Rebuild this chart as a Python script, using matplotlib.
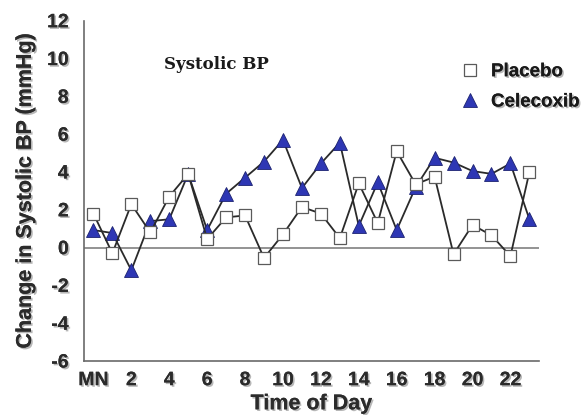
import matplotlib
matplotlib.use("Agg")
import matplotlib.pyplot as plt
import matplotlib.patheffects as pe

plt.rcParams["axes.unicode_minus"] = False

hours = list(range(24))
tick_hours = [0, 2, 4, 6, 8, 10, 12, 14, 16, 18, 20, 22]
tick_labels = ["MN", "2", "4", "6", "8", "10", "12", "14", "16", "18", "20", "22"]
y_ticks = [-6, -4, -2, 0, 2, 4, 6, 8, 10, 12]

placebo = [1.8, -0.3, 2.3, 0.8, 2.7, 3.9, 0.45, 1.6, 1.7, -0.55, 0.7, 2.15,
           1.8, 0.5, 3.4, 1.3, 5.1, 3.35, 3.75, -0.35, 1.2, 0.65, -0.45, 4.0]
celecoxib = [0.93, 0.77, -1.2, 1.4, 1.5, 3.9, 0.93, 2.85, 3.7, 4.55, 5.7, 3.15,
             4.45, 5.55, 1.15, 3.45, 0.93, 3.2, 4.75, 4.5, 4.05, 3.9, 4.45, 1.5]

shadow = [pe.withSimplePatchShadow(offset=(1.2, -1.2), shadow_rgbFace="#888888", alpha=0.6), pe.Normal()]
bold_sans = dict(family="Liberation Sans", weight="bold", color="#2b2b2b")

fig = plt.figure(figsize=(5.87, 4.15), dpi=100)
ax = fig.add_axes([0.143, 0.130, 0.775, 0.820])

ax.axhline(0, color="#8a8a8a", lw=1.3, zorder=1)

ax.plot(hours, celecoxib, color="#2a2a2a", lw=1.3, marker="^", markersize=10.5,
        markerfacecolor="#2e37b4", markeredgecolor="#1c2270", markeredgewidth=0.6,
        zorder=2, label="Celecoxib")
ax.plot(hours, placebo, color="#2a2a2a", lw=1.3, marker="s", markersize=9,
        markerfacecolor="white", markeredgecolor="#5a5a5a", markeredgewidth=0.9,
        zorder=3, label="Placebo")

ax.set_xlim(-0.5, 23.5)
ax.set_ylim(-6, 12)
ax.set_xticks(tick_hours)
ax.set_xticklabels(tick_labels)
ax.set_yticks(y_ticks)

for side in ("top", "right"):
    ax.spines[side].set_visible(False)
for side in ("left", "bottom"):
    ax.spines[side].set_color("#6a6a6a")
    ax.spines[side].set_linewidth(1.2)
ax.tick_params(axis="y", length=0, pad=11)
ax.tick_params(axis="x", length=0, pad=8)

for lab in ax.get_xticklabels() + ax.get_yticklabels():
    lab.set_fontfamily("Liberation Sans")
    lab.set_fontweight("bold")
    lab.set_fontsize(14)
    lab.set_color("#2b2b2b")
    lab.set_path_effects(shadow)

ax.set_xlabel("Time of Day", fontsize=15.5, labelpad=3, path_effects=shadow, **bold_sans)
ax.set_ylabel("Change in Systolic BP (mmHg)", fontsize=15.5, labelpad=8, path_effects=shadow, **bold_sans)

ax.text(0.175, 0.87, "Systolic BP", transform=ax.transAxes, ha="left", va="center",
        family="DejaVu Serif", weight="bold", fontsize=12, color="#1a1a1a")

handles, labels = ax.get_legend_handles_labels()
leg = ax.legend(handles[::-1], labels[::-1], loc="upper left", bbox_to_anchor=(0.8, 0.925),
                frameon=False, handlelength=0.6, handletextpad=0.8, labelspacing=0.7,
                prop=dict(family="Liberation Sans", weight="bold", size=13.5))
for h in leg.legend_handles:
    h.set_linestyle("none")
for t in leg.get_texts():
    t.set_color("#1a1a1a")
    t.set_path_effects(shadow)

fig.savefig("out.png", dpi=100)
